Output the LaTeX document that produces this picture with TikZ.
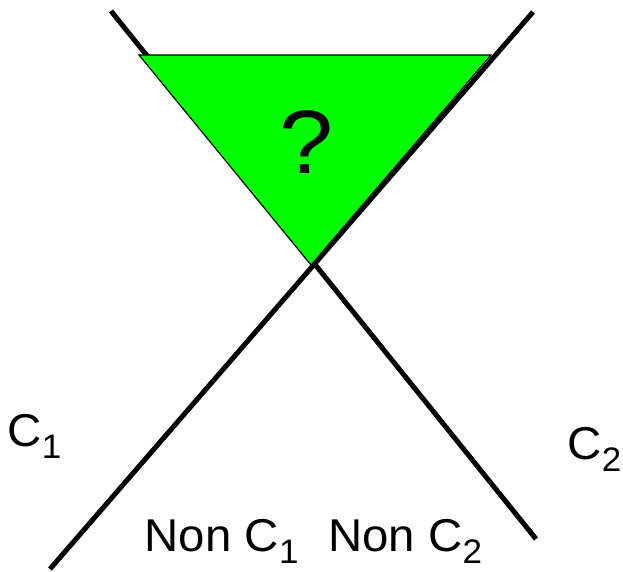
\documentclass[tikz,border=0pt]{standalone}
\usepackage{fontspec}
\setmainfont{Liberation Sans}
\newcommand{\sbs}[1]{\raisebox{-12pt}{\fontsize{34}{34}\selectfont #1}}
\newcommand{\wide}[1]{\scalebox{1.03}[1]{#1}}
\begin{document}
\begin{tikzpicture}[x=1pt,y=-1pt,
  cutline/.style={line width=5pt,black},
  lbl/.style={font=\fontsize{46}{46}\selectfont,inner sep=0pt,anchor=base west}]
\useasboundingbox (0,0) rectangle (623,571);
\coordinate (a1) at (111,11);
\coordinate (a2) at (536,539);
\coordinate (b1) at (533,12);
\coordinate (b2) at (50,569);
\coordinate (t1) at (139,55);
\coordinate (t2) at (491,55);
\coordinate (t3) at (311,265);
\draw[cutline] (a1) -- (a2);
\draw[cutline] (b1) -- (b2);
\filldraw[fill={rgb,255:red,0;green,255;blue,0},draw=black,line width=1.2pt] (t1) -- (t2) -- (t3) -- cycle;
\node[font=\fontsize{90}{90}\selectfont,inner sep=0pt,anchor=base] (q) at (307,173) {\scalebox{1.08}[1]{?}};
\node[lbl] (c1) at (7.5,446) {\wide{C\sbs{1}}};
\node[lbl] (c2) at (567.5,459) {\wide{C\sbs{2}}};
\node[lbl] (n1) at (144.5,551) {\wide{Non C\sbs{1}}};
\node[lbl] (n2) at (328,551) {\wide{Non C\sbs{2}}};
\end{tikzpicture}
\end{document}
